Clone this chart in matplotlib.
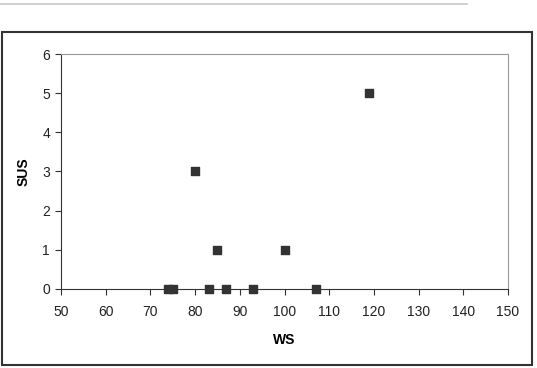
import matplotlib.pyplot as plt
from matplotlib.patches import Rectangle
from matplotlib.lines import Line2D

plt.rcParams['font.family'] = ['Liberation Sans', 'DejaVu Sans']

ws = [74, 75, 80, 83, 85, 87, 93, 100, 107, 119]
sus = [0, 0, 3, 0, 1, 0, 0, 1, 0, 5]

x_ticks = list(range(50, 151, 10))
y_ticks = list(range(0, 7))

fig = plt.figure(figsize=(5.37, 3.68), dpi=100)

# outer chart frame and the gray rule above it
fig.patches.append(Rectangle((2 / 537, 3 / 368), 530 / 537, 333 / 368,
                             transform=fig.transFigure, fill=False,
                             edgecolor='#333333', linewidth=1.5))
fig.lines.append(Line2D([0, 467 / 537], [1 - 4 / 368, 1 - 4 / 368],
                        transform=fig.transFigure, color='#c8c8c8', linewidth=1.2))

ax = fig.add_axes([61 / 537, 1 - 288.5 / 368, 447 / 537, 234 / 368])
ax.scatter(ws, sus, marker='s', s=34, color='#333333', zorder=3, clip_on=False)

ax.set_xlim(50, 150)
ax.set_ylim(0, 6)
ax.set_xticks(x_ticks)
ax.set_yticks(y_ticks)
ax.tick_params(labelsize=10, colors='#333333', length=4, width=0.8,
               direction='out', labelcolor='#222222')
ax.tick_params(axis='x', pad=8)
ax.tick_params(axis='y', pad=4)

for side in ('top', 'right'):
    ax.spines[side].set_color('#999999')
for side in ('left', 'bottom'):
    ax.spines[side].set_color('#333333')

ax.set_xlabel('WS', fontsize=10, fontweight='bold', labelpad=10)
ax.set_ylabel('SUS', fontsize=10, fontweight='bold', labelpad=8)

fig.savefig('out.png', dpi=100)
